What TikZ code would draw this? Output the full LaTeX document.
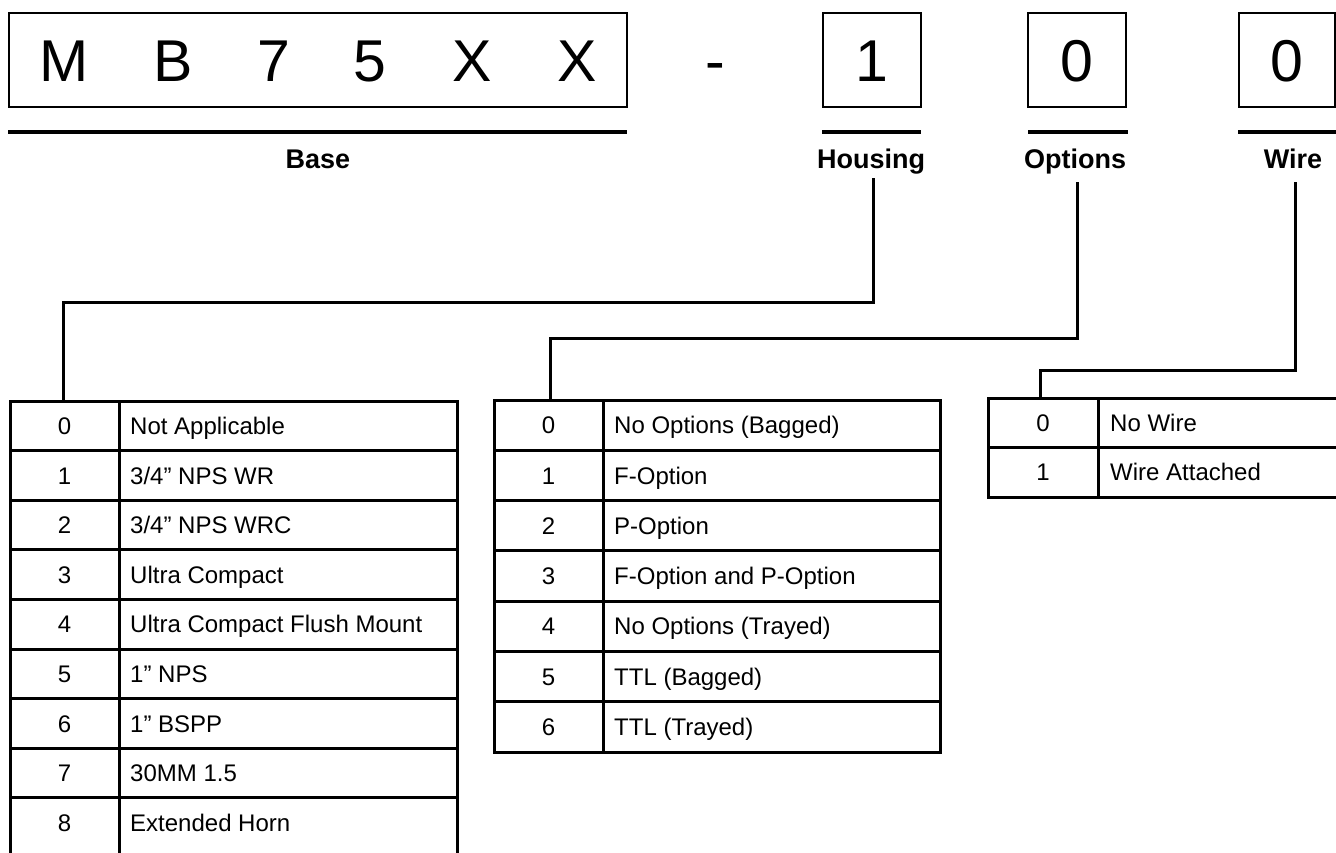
\documentclass[tikz,border=0pt]{standalone}
\usepackage{fontspec}
\setmainfont{Liberation Sans}
\begin{document}
\begin{tikzpicture}[x=1pt,y=-1pt,
  frame/.style={draw, line width=2pt, inner sep=0pt},
  bigch/.style={font=\fontsize{59}{59}\selectfont, inner sep=0pt, anchor=base},
  uline/.style={line width=4pt},
  lbl/.style={font=\fontsize{27}{27}\selectfont\bfseries, inner sep=0pt, anchor=base},
  conn/.style={line width=3pt},
  grid/.style={line width=3pt},
  cellnum/.style={font=\fontsize{24}{24}\selectfont, inner sep=0pt, anchor=base},
  celltxt/.style={font=\fontsize{24}{24}\selectfont, inner sep=0pt, anchor=base west},
]
\clip (0,0) rectangle (1336,852);

% ---- top code boxes ----
\node[frame, minimum width=618, minimum height=94] (basebox) at (318,60) {};
\foreach \c/\x [count=\k] in {M/64,B/173,7/274,5/370,X/472,X/577}
  \node[bigch] (ch\k) at (\x,81) {\c};
\node[bigch] (dash) at (715,81) {-};
\node[frame, minimum width=98, minimum height=94] (hbox) at (871.5,60) {};
\node[bigch] (hdig) at (871.5,81) {1};
\node[frame, minimum width=98, minimum height=94] (obox) at (1077,60) {};
\node[bigch] (odig) at (1077,81) {0};
\node[frame, minimum width=96, minimum height=94] (wbox) at (1287,60) {};
\node[bigch] (wdig) at (1287,81) {0};

% underlines
\draw[uline] (8,132) -- (627,132);
\draw[uline] (822,132) -- (921,132);
\draw[uline] (1028,132) -- (1128,132);
\draw[uline] (1238,132) -- (1340,132);

% labels
\node[lbl] (lbase) at (318,168) {Base};
\node[lbl] (lhous) at (871,168) {Housing};
\node[lbl] (lopt) at (1075,168) {Options};
\node[lbl] (lwire) at (1293,168) {Wire};

% ---- connectors ----
\coordinate (hsA) at (873,178);
\coordinate (hsB) at (63,401);
\draw[conn] (hsA) -- ++(0,124) -| (hsB);
\coordinate (opA) at (1077,182);
\coordinate (opB) at (550,400);
\draw[conn] (opA) -- ++(0,156) -| (opB);
\coordinate (wiA) at (1295,182);
\coordinate (wiB) at (1040,398);
\draw[conn] (wiA) -- ++(0,188) -| (wiB);

% ---- Housing table ----
\draw[grid] (10,860) -- (10,401) -- (457,401) -- (457,860);
\draw[grid] (119,401) -- (119,860);
\foreach \k in {1,...,8}
  \draw[grid] (10,{401+\k*49.6}) -- (457,{401+\k*49.6});
\foreach \t [count=\k from 0] in {{Not Applicable},{3/4” NPS WR},{3/4” NPS WRC},{Ultra Compact},{Ultra Compact Flush Mount},{1” NPS},{1” BSPP},{30MM 1.5},{Extended Horn}}{
  \node[cellnum] (hn\k) at (64.5,{401+(\k+0.5)*49.6+8.6}) {\k};
  \node[celltxt] (ht\k) at (130,{401+(\k+0.5)*49.6+8.6}) {\t};
}

% ---- Options table ----
\draw[grid] (494,400) rectangle (940,752.1);
\draw[grid] (603,400) -- (603,752.1);
\foreach \k in {1,...,6}
  \draw[grid] (494,{400+\k*50.3}) -- (940,{400+\k*50.3});
\foreach \t [count=\k from 0] in {{No Options (Bagged)},{F-Option},{P-Option},{F-Option and P-Option},{No Options (Trayed)},{TTL (Bagged)},{TTL (Trayed)}}{
  \node[cellnum] (on\k) at (548.5,{400+(\k+0.5)*50.3+8.6}) {\k};
  \node[celltxt] (ot\k) at (614,{400+(\k+0.5)*50.3+8.6}) {\t};
}

% ---- Wire table ----
\draw[grid] (1345,398) -- (988,398) -- (988,497) -- (1345,497);
\draw[grid] (1098,398) -- (1098,497);
\draw[grid] (988,447.5) -- (1345,447.5);
\foreach \t [count=\k from 0] in {{No Wire},{Wire Attached}}{
  \node[cellnum] (wn\k) at (1043,{398+(\k+0.5)*49.5+8.6}) {\k};
  \node[celltxt] (wt\k) at (1110,{398+(\k+0.5)*49.5+8.6}) {\t};
}
\end{tikzpicture}
\end{document}
